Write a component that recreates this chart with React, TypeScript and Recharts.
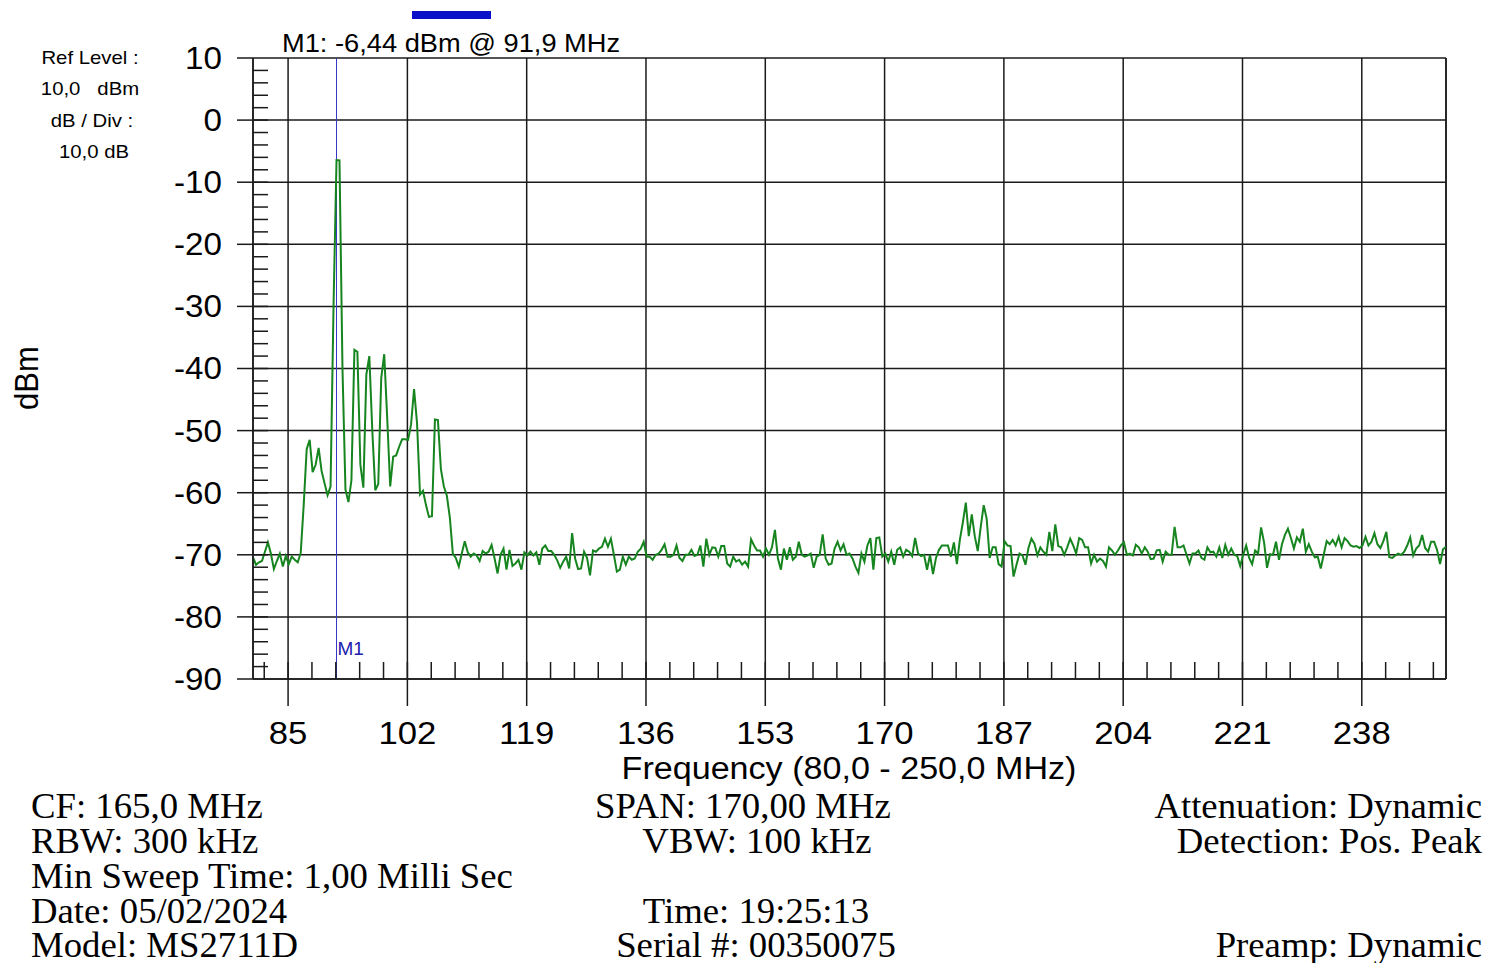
import React from "react";
import {
  LineChart,
  Line,
  XAxis,
  YAxis,
  CartesianGrid,
  ReferenceLine,
  Label,
} from "recharts";

// sweep: 401 points, 80.0 .. 250.0 MHz
const START_MHZ = 80;
const STEP_MHZ = 0.425;

const levels = [
  -70.4, -71.6, -71.2, -71, -69.5, -68, -69.8, -72.3, -71, -69.8,
  -71.9, -70.2, -71.5, -70.3, -70.8, -71.2, -69.7, -62, -53, -51.5,
  -56.7, -55.5, -52.8, -56.5, -58.5, -60.4, -59, -30, -6.44, -6.5,
  -40, -59.5, -61.5, -58, -37, -37.3, -55.5, -59.2, -41, -38,
  -50, -59.6, -58.6, -41.5, -37.7, -48, -59, -54.2, -54, -52.6,
  -51.4, -51.4, -51.5, -49, -43.3, -48.8, -60.3, -59.7, -62, -63.9,
  -63.8, -48.2, -48.3, -56.2, -59, -60.5, -64, -69.8, -70.5, -71.9,
  -69.8, -67.8, -69.6, -70.3, -69.8, -70.1, -71, -69.4, -69.8, -69.5,
  -68.4, -70.6, -73, -70, -69, -72.4, -69.2, -71.8, -71.4, -70.8,
  -72.4, -69.6, -70.1, -69.5, -70.1, -69.6, -71.6, -69, -68.5, -69.4,
  -69.4, -70, -70.9, -72.1, -71.1, -70.3, -72.2, -66.5, -70.6, -72.3,
  -72.2, -69.5, -70.5, -73.3, -69.3, -69.5, -69, -68.7, -67.4, -68.7,
  -67.4, -70, -72.7, -72.4, -70.3, -71.6, -70.3, -70.8, -70.6, -69.5,
  -69, -67.9, -70.3, -70.3, -70.8, -70, -69.8, -69.2, -68.3, -70.3,
  -70.3, -70, -68.5, -70.5, -71, -70, -70, -69.2, -70.2, -70,
  -68.5, -71.9, -67.4, -70, -68.8, -68.9, -70.3, -68.6, -68.6, -71.4,
  -71.9, -70.3, -71.1, -70.8, -71.6, -71.1, -71.9, -67.5, -68.5, -69.3,
  -69.3, -70.3, -69, -70, -68.8, -66, -70.6, -72.4, -69, -70.8,
  -68.8, -70.8, -70.3, -67.9, -70, -70.3, -70.1, -69.8, -72.1, -70.3,
  -70, -66.7, -70.6, -71.6, -71.4, -69, -67.9, -69.3, -68.3, -70,
  -69.8, -70.6, -71.9, -72.9, -69.8, -71.1, -68.5, -67.3, -72.4, -67.3,
  -67.2, -70.3, -69.8, -71.1, -69.5, -71.6, -69.2, -68.8, -70.3, -69.2,
  -69.5, -70.2, -67.3, -69.8, -70.2, -70, -72.4, -70, -73.1, -70.5,
  -69.2, -68.5, -68.5, -68.5, -70.3, -68, -71.5, -67.6, -64.8, -61.6,
  -67, -63.5, -67, -69.4, -65.5, -62, -64.2, -70.5, -68.8, -68.8,
  -71.5, -71.9, -67.8, -68.5, -68.6, -73.5, -71.6, -69.8, -70.1, -71.6,
  -68.9, -67.4, -68.2, -70.1, -68.8, -69.5, -70, -66.3, -69.4, -65.1,
  -68.6, -68.8, -70, -68.8, -67.4, -68.5, -69.8, -67.3, -67.6, -68.8,
  -68.8, -71.4, -70, -71.1, -70.6, -71, -71.9, -68.8, -69.3, -70,
  -69.3, -68.5, -68, -70, -69.8, -70.1, -68.4, -68.8, -69.8, -68.8,
  -69.5, -70.7, -70.6, -69.3, -69.2, -71.1, -69.5, -70, -70, -65.5,
  -68.8, -68.8, -68.5, -70, -71.4, -69.8, -69.8, -69.3, -70.5, -70.8,
  -68.8, -69.6, -69.5, -70.3, -68.8, -70.5, -68.4, -70, -69, -70,
  -70.2, -71.8, -70, -68.5, -70.5, -71.5, -69.3, -69.8, -65.6, -68,
  -72.1, -69.9, -70, -67.9, -70.8, -68.3, -66.8, -65.8, -67.3, -69,
  -67.2, -67.9, -65.8, -69.5, -68.3, -69.5, -70.4, -70.3, -72.2, -70,
  -67.8, -68.3, -67.6, -68.5, -67.1, -68.8, -67.3, -67.8, -68.5, -68.7,
  -68.6, -68.9, -68.5, -67.1, -68.5, -67.9, -66.5, -68.3, -68.9, -67.8,
  -66.3, -70.4, -70.5, -70.1, -69.8, -70, -69.5, -68.5, -67.2, -70.1,
  -69, -68.5, -66.8, -68.9, -69.5, -67.9, -67.9, -69.2, -71.5, -69.1,
  -68.7,
];

const freqTicks = [85, 102, 119, 136, 153, 170, 187, 204, 221, 238];
const dbTicks = [-90, -80, -70, -60, -50, -40, -30, -20, -10, 0, 10];
const markerFreq = 91.9;

const minorFreqTicks = Array.from({ length: 50 }, (_, k) => +(81.6 + k * 3.4).toFixed(1));
const minorDbTicks = Array.from({ length: 49 }, (_, k) => -88 + k * 2);

const data = levels.map((v, i) => ({
  f: +(START_MHZ + i * STEP_MHZ).toFixed(3),
  dbm: v,
}));

const sans = '"Liberation Sans", Arial, sans-serif';
const serif = '"Liberation Serif", "Times New Roman", serif';

const XTick = ({ x, y, payload }: any) => (
  <text
    x={x}
    y={y}
    dy="0.71em"
    textAnchor="middle"
    fontSize={31}
    fontFamily={sans}
    fill="#000"
    transform={`translate(${x} 0) scale(1.12 1) translate(${-x} 0)`}
  >
    {payload.value}
  </text>
);

const YTick = ({ x, y, payload }: any) => (
  <text
    x={x}
    y={y}
    dy="0.355em"
    textAnchor="end"
    fontSize={31}
    fontFamily={sans}
    fill="#000"
    transform={`translate(${x} 0) scale(1.07 1) translate(${-x} 0)`}
  >
    {payload.value}
  </text>
);

const NoTick = () => <g />;

function Txt({ x, y, size, font, children, align = "left", w = 700, sx = 1, lh }: any) {
  const lineH = lh ?? size;
  let left = x;
  if (align === "center") left = x - w / 2;
  if (align === "right") left = x - w;
  return (
    <div
      style={{
        position: "absolute",
        left,
        top: y - lineH / 2,
        width: w,
        textAlign: align,
        fontSize: size,
        lineHeight: `${lineH}px`,
        fontFamily: font,
        color: "#000",
        whiteSpace: "pre",
        transform: `scaleX(${sx})`,
        transformOrigin: align,
      }}
    >
      {children}
    </div>
  );
}

export default function App() {
  return (
    <div
      style={{
        position: "absolute",
        left: 0,
        top: 0,
        width: 1496,
        height: 963,
        background: "#fff",
        overflow: "hidden",
      }}
    >
      <LineChart
        width={1496}
        height={963}
        data={data}
        margin={{ top: 58, right: 50, bottom: 0, left: 0 }}
      >
        <CartesianGrid stroke="#1a1a1a" strokeWidth={1.5} />
        <XAxis
          dataKey="f"
          type="number"
          domain={[80, 250]}
          ticks={freqTicks}
          interval={0}
          height={284}
          tickSize={27}
          tickMargin={16}
          tick={<XTick />}
          stroke="#1a1a1a"
          strokeWidth={1.5}
          allowDataOverflow
        />
        <XAxis
          xAxisId="minor"
          dataKey="f"
          type="number"
          domain={[80, 250]}
          ticks={minorFreqTicks}
          interval={0}
          orientation="bottom"
          mirror
          height={1}
          tickSize={17}
          tick={NoTick}
          axisLine={false}
          tickLine={{ stroke: "#1a1a1a", strokeWidth: 1.5 }}
          allowDataOverflow
        />
        <YAxis
          type="number"
          domain={[-90, 10]}
          ticks={dbTicks}
          interval={0}
          width={253}
          tickSize={16}
          tickMargin={15}
          tick={<YTick />}
          stroke="#1a1a1a"
          strokeWidth={1.5}
          allowDataOverflow
        />
        <YAxis
          yAxisId="minor"
          type="number"
          domain={[-90, 10]}
          ticks={minorDbTicks}
          interval={0}
          orientation="left"
          mirror
          width={1}
          tickSize={15}
          tick={NoTick}
          axisLine={false}
          tickLine={{ stroke: "#1a1a1a", strokeWidth: 1.5 }}
          allowDataOverflow
        />
        <ReferenceLine x={250} stroke="#1a1a1a" strokeWidth={1.5} />
        <ReferenceLine x={markerFreq} stroke="#3838c8" strokeWidth={1}>
          <Label
            value="M1"
            position="insideBottomLeft"
            offset={1}
            dy={-23}
            fill="#2020b0"
            fontSize={19}
            fontFamily={sans}
          />
        </ReferenceLine>
        <Line
          type="linear"
          dataKey="dbm"
          stroke="#17851f"
          strokeWidth={2}
          dot={false}
          isAnimationActive={false}
        />
      </LineChart>

      <div
        style={{
          position: "absolute",
          left: 412,
          top: 11,
          width: 79,
          height: 8,
          background: "#0a10c8",
        }}
      />
      <Txt x={282} y={43} size={25} font={sans} sx={1.09}>M1: -6,44 dBm @ 91,9 MHz</Txt>

      <Txt x={90} y={57} size={19} font={sans} align="center" w={160} sx={1.07}>Ref Level :</Txt>
      <Txt x={90} y={88} size={19} font={sans} align="center" w={160} sx={1.07}>10,0   dBm</Txt>
      <Txt x={92} y={120} size={19} font={sans} align="center" w={160} sx={1.07}>dB / Div :</Txt>
      <Txt x={94} y={151} size={19} font={sans} align="center" w={160} sx={1.07}>10,0 dB</Txt>

      <div
        style={{
          position: "absolute",
          left: 27 - 60,
          top: 378 - 17,
          width: 120,
          textAlign: "center",
          fontSize: 31,
          lineHeight: "34px",
          fontFamily: sans,
          transform: "rotate(-90deg) scaleY(1.05)",
        }}
      >
        dBm
      </div>

      <Txt x={849} y={768} size={31} font={sans} align="center" sx={1.1}>
        Frequency (80,0 - 250,0 MHz)
      </Txt>

      <Txt x={31} y={807} size={35} lh={30} font={serif} sx={1.05}>CF: 165,0 MHz</Txt>
      <Txt x={31} y={842} size={35} lh={30} font={serif} sx={1.05}>RBW: 300 kHz</Txt>
      <Txt x={31} y={877} size={35} lh={30} font={serif} sx={1.05}>Min Sweep Time: 1,00 Milli Sec</Txt>
      <Txt x={31} y={912} size={35} lh={30} font={serif} sx={1.05}>Date: 05/02/2024</Txt>
      <Txt x={31} y={946} size={35} lh={30} font={serif} sx={1.05}>Model: MS2711D</Txt>

      <Txt x={743} y={807} size={35} lh={30} font={serif} align="center" sx={1.05}>SPAN: 170,00 MHz</Txt>
      <Txt x={757} y={842} size={35} lh={30} font={serif} align="center" sx={1.05}>VBW: 100 kHz</Txt>
      <Txt x={756} y={912} size={35} lh={30} font={serif} align="center" sx={1.05}>Time: 19:25:13</Txt>
      <Txt x={756} y={946} size={35} lh={30} font={serif} align="center" sx={1.05}>Serial #: 00350075</Txt>

      <Txt x={1482} y={807} size={35} lh={30} font={serif} align="right" sx={1.05}>Attenuation: Dynamic</Txt>
      <Txt x={1482} y={842} size={35} lh={30} font={serif} align="right" sx={1.05}>Detection: Pos. Peak</Txt>
      <Txt x={1482} y={946} size={35} lh={30} font={serif} align="right" sx={1.05}>Preamp: Dynamic</Txt>
    </div>
  );
}
